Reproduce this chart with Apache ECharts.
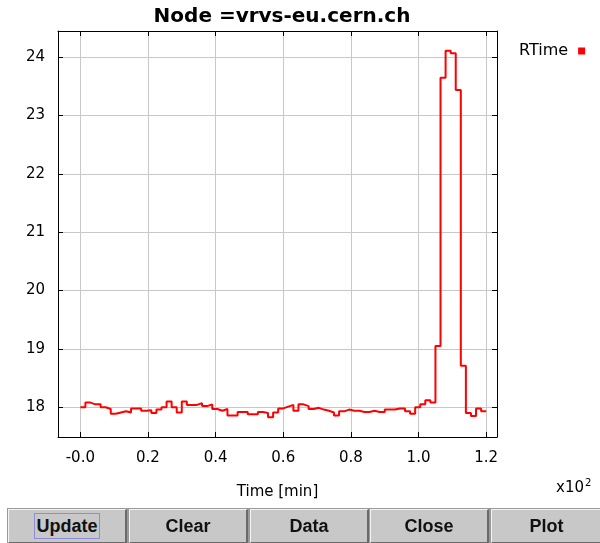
<!DOCTYPE html>
<html>
<head>
<meta charset="utf-8">
<script src="https://cdn.jsdelivr.net/npm/echarts@6/dist/echarts.min.js"></script>
<style>
  html, body { margin: 0; padding: 0; background: #fff; }
  #wrap { position: relative; width: 600px; height: 543px; overflow: hidden; }
  #chart { position: absolute; left: 0; top: 0; width: 600px; height: 543px; }
  .btn {
    position: absolute;
    top: 509px;
    height: 34px;
    box-sizing: border-box;
    background: #c8c8c8;
    border-top: 1px solid #f4f4f4;
    border-left: 1px solid #f4f4f4;
    border-right: 2px solid #6a6a6a;
    border-bottom: 1px solid #6a6a6a;
    outline: 1px solid #9a9a9a;
    font: bold 18px "Liberation Sans", Arial, sans-serif;
    color: #111;
    text-align: center;
    line-height: 32px;
  }
  .focus { border: 1px solid #8c8cd8; padding: 2px 1px; }
</style>
</head>
<body>
<div id="wrap">
  <div id="chart"></div>
  <div class="btn" style="left:8px;width:119px;"><span class="focus">Update</span></div>
  <div class="btn" style="left:129px;width:119px;">Clear</div>
  <div class="btn" style="left:250px;width:119px;">Data</div>
  <div class="btn" style="left:370px;width:119px;">Close</div>
  <div class="btn" style="left:491px;width:112px;">Plot</div>
</div>
<script>
  // 采样时间 (min)
  const times = [
    0, 1.5, 3, 4.5, 6, 7.5, 9, 10.5, 12, 13.5,
    15, 16.5, 18, 19.5, 21, 22.5, 24, 25.5, 27, 28.5,
    30, 31.5, 33, 34.5, 36, 37.5, 39, 40.5, 42, 43.5,
    45, 46.5, 48, 49.5, 51, 52.5, 54, 55.5, 57, 58.5,
    60, 61.5, 63, 64.5, 66, 67.5, 69, 70.5, 72, 73.5,
    75, 76.5, 78, 79.5, 81, 82.5, 84, 85.5, 87, 88.5,
    90, 91.5, 93, 94.5, 96, 97.5, 99, 100.5, 102, 103.5,
    105, 106.5, 108, 109.5, 111, 112.5, 114, 115.5, 117, 118.5,
    120
  ]

  // RTime 数值
  const rtime = [
    18.00, 18.08, 18.05, 18.05, 18.00, 17.97, 17.89, 17.91, 17.93, 17.91,
    17.98, 17.98, 17.94, 17.95, 17.90, 17.96, 18.00, 18.10, 18.00, 17.91,
    18.10, 18.04, 18.04, 18.07, 18.02, 18.05, 17.97, 17.94, 17.97, 17.86,
    17.86, 17.92, 17.92, 17.88, 17.88, 17.92, 17.90, 17.83, 17.91, 17.98,
    18.01, 18.04, 17.94, 18.05, 18.02, 17.97, 17.99, 17.96, 17.94, 17.91,
    17.86, 17.93, 17.96, 17.94, 17.94, 17.92, 17.92, 17.94, 17.92, 17.92,
    17.96, 17.96, 17.98, 17.98, 17.93, 17.89, 18.00, 18.05, 18.12, 18.08,
    19.05, 23.65, 24.11, 24.07, 23.44, 18.71, 17.90, 17.85, 17.98, 17.93,
    17.93
  ]

  // 刻度
  const xTicks = [0, 20, 40, 60, 80, 100, 120]
  const yTicks = [18, 19, 20, 21, 22, 23, 24]

  const font = '"DejaVu Sans", Verdana, sans-serif'
  const chart = echarts.init(document.getElementById('chart'), null, { renderer: 'canvas' })

  // 四边框线 + 内向刻度
  const boxLine = { show: true, onZero: false, lineStyle: { color: '#000', width: 1 } }
  const tickStyle = { show: true, inside: true, length: 5, lineStyle: { color: '#000' } }

  const option = {
    backgroundColor: '#fff',
    animation: false,
    title: {
      text: 'Node =vrvs-eu.cern.ch',
      left: 277,
      top: 2,
      textAlign: 'center',
      textStyle: { fontFamily: font, fontSize: 20, fontWeight: 'bold', color: '#000' }
    },
    legend: {
      data: ['RTime'],
      left: 514,
      top: 38,
      align: 'right',
      icon: 'rect',
      itemWidth: 7,
      itemHeight: 7,
      itemGap: 8,
      textStyle: { fontFamily: font, fontSize: 16, color: '#000', padding: [0, 5, 0, 0] }
    },
    grid: { left: 58, right: 103, top: 31, bottom: 106, containLabel: false },
    xAxis: [
      {
        type: 'value',
        min: -6.6,
        max: 123.2,
        axisLine: boxLine,
        name: 'Time [min]',
        nameLocation: 'middle',
        nameGap: 48,
        nameTextStyle: { fontFamily: font, fontSize: 15, color: '#000' },
        axisTick: { ...tickStyle, customValues: xTicks },
        axisLabel: {
          customValues: xTicks,
          margin: 14,
          fontFamily: font,
          fontSize: 15,
          color: '#000',
          formatter: v => (v === 0 ? '-0.0' : (v / 100).toFixed(1))
        },
        splitLine: { show: true, lineStyle: { color: '#c8c8c8', width: 1 } }
      },
      {
        type: 'value',
        position: 'top',
        min: -6.6,
        max: 123.2,
        axisLine: boxLine,
        axisTick: { ...tickStyle, customValues: xTicks },
        axisLabel: { show: false },
        splitLine: { show: false }
      }
    ],
    yAxis: [
      {
        type: 'value',
        min: 17.49,
        max: 24.45,
        axisLine: boxLine,
        axisTick: { ...tickStyle, customValues: yTicks },
        axisLabel: {
          customValues: yTicks,
          margin: 13,
          fontFamily: font,
          fontSize: 15,
          color: '#000'
        },
        splitLine: { show: true, lineStyle: { color: '#c8c8c8', width: 1 } }
      },
      {
        type: 'value',
        position: 'right',
        min: 17.49,
        max: 24.45,
        axisLine: boxLine,
        axisTick: { ...tickStyle, customValues: yTicks },
        axisLabel: { show: false },
        splitLine: { show: false }
      }
    ],
    graphic: [
      {
        type: 'text',
        left: 556,
        top: 478,
        style: {
          text: '{a|x10}{b|2}',
          rich: {
            a: { fontFamily: font, fontSize: 15, color: '#000', verticalAlign: 'bottom' },
            b: { fontFamily: font, fontSize: 10, color: '#000', verticalAlign: 'top', padding: [0, 0, 8, 1] }
          }
        }
      }
    ],
    series: [
      {
        name: 'RTime',
        type: 'line',
        step: 'end',
        data: times.map((t, i) => [t, rtime[i]]),
        showSymbol: false,
        symbol: 'none',
        lineStyle: { color: '#ff0000', width: 2 },
        itemStyle: { color: '#ff0000' }
      }
    ]
  }

  chart.setOption(option)
</script>
</body>
</html>
